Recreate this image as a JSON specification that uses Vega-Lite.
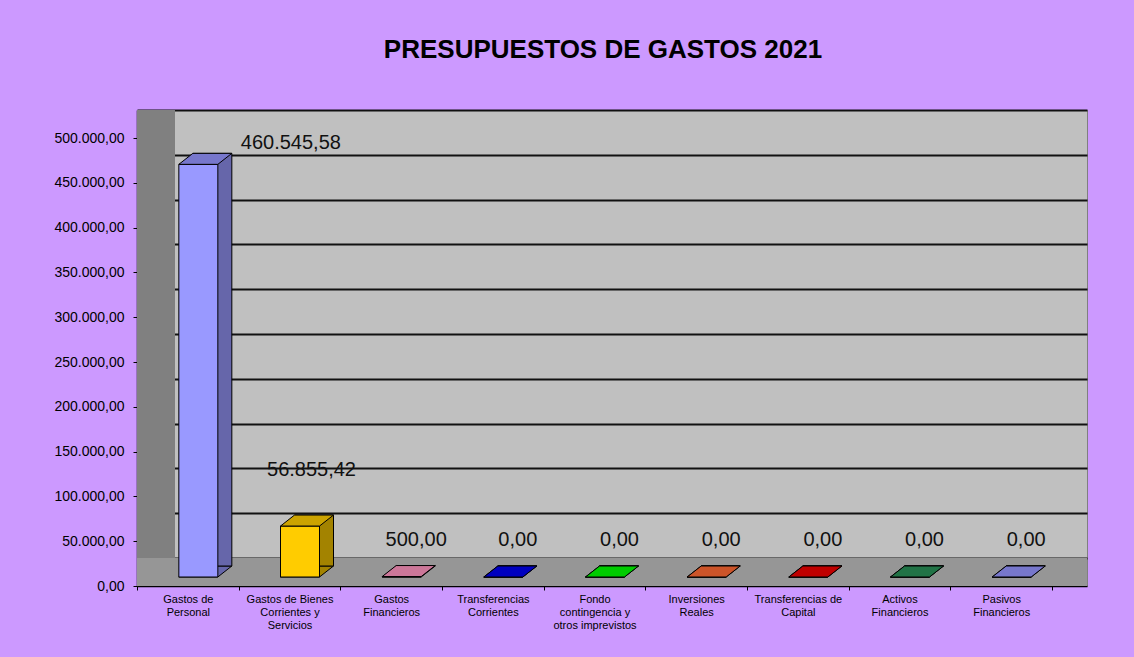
{
  "$schema": "https://vega.github.io/schema/vega-lite/v6.json",
  "width": 950,
  "height": 476,
  "autosize": {"type": "none"},
  "padding": {"left": 137, "top": 110, "right": 47, "bottom": 71},
  "background": "#CC99FF",
  "config": {
    "locale": {"number": {"decimal": ",", "thousands": ".", "grouping": [3], "currency": ["", " €"]}},
    "view": {"fill": "#C0C0C0", "stroke": "#808080", "strokeWidth": 1},
    "font": "Liberation Sans"
  },
  "title": {
    "text": "PRESUPUESTOS DE GASTOS 2021",
    "fontSize": 26,
    "fontWeight": "bold",
    "color": "black",
    "font": "Liberation Sans",
    "anchor": "middle",
    "frame": "group",
    "baseline": "alphabetic",
    "offset": 7,
    "dx": -9
  },
  "data": {
    "values": [
      {"cat": "Gastos de|Personal", "value": 460545.58},
      {"cat": "Gastos de Bienes|Corrientes y|Servicios", "value": 56855.42},
      {"cat": "Gastos|Financieros", "value": 500},
      {"cat": "Transferencias|Corrientes", "value": 0},
      {"cat": "Fondo|contingencia y|otros imprevistos", "value": 0},
      {"cat": "Inversiones|Reales", "value": 0},
      {"cat": "Transferencias de|Capital", "value": 0},
      {"cat": "Activos|Financieros", "value": 0},
      {"cat": "Pasivos|Financieros", "value": 0}
    ]
  },
  "layer": [
    {
      "mark": {"type": "rule", "color": "#808080", "strokeWidth": 38, "xOffset": 19},
      "encoding": {
        "x": {"datum": "Gastos de|Personal", "type": "nominal", "bandPosition": 0,
          "scale": {"domain": ["Gastos de|Personal", "Gastos de Bienes|Corrientes y|Servicios", "Gastos|Financieros", "Transferencias|Corrientes", "Fondo|contingencia y|otros imprevistos", "Inversiones|Reales", "Transferencias de|Capital", "Activos|Financieros", "Pasivos|Financieros"], "paddingInner": 0, "paddingOuter": 0.172, "align": 0},
          "axis": null}
      }
    },
    {
      "mark": {"type": "rule", "color": "#969696", "strokeWidth": 28, "yOffset": 14},
      "encoding": {
        "y": {"datum": 0, "type": "quantitative", "scale": {"domain": [-31250, 500000], "nice": false, "zero": false}, "axis": null}
      }
    },
    {
      "mark": {"type": "point", "shape": "M -1 0.2075 L 0.4717 0.2075 L 1 -0.2075 L -0.4717 -0.2075 Z", "size": 2809, "filled": true, "opacity": 1, "stroke": "black", "strokeWidth": 1, "xOffset": 17.5, "yOffset": 13.5},
      "encoding": {
        "x": {"field": "cat", "type": "nominal", "axis": null},
        "y": {"datum": 0, "type": "quantitative", "axis": null},
        "fill": {"field": "cat", "type": "nominal", "legend": null,
          "scale": {"domain": ["Gastos de|Personal", "Gastos de Bienes|Corrientes y|Servicios", "Gastos|Financieros", "Transferencias|Corrientes", "Fondo|contingencia y|otros imprevistos", "Inversiones|Reales", "Transferencias de|Capital", "Activos|Financieros", "Pasivos|Financieros"],
            "range": ["#6666AA", "#A38300", "#994466", "#000090", "#009900", "#993F1F", "#900000", "#185636", "#5959A0"]}}
      }
    },
    {
      "mark": {"type": "bar", "width": 39, "xOffset": 24.5, "yOffset": 8, "y2Offset": 8, "stroke": "black", "strokeWidth": 1},
      "encoding": {
        "x": {"field": "cat", "type": "nominal", "axis": null},
        "y": {"field": "value", "type": "quantitative", "axis": null},
        "y2": {"datum": 0},
        "fill": {"field": "cat", "type": "nominal", "legend": null,
          "scale": {"domain": ["Gastos de|Personal", "Gastos de Bienes|Corrientes y|Servicios", "Gastos|Financieros", "Transferencias|Corrientes", "Fondo|contingencia y|otros imprevistos", "Inversiones|Reales", "Transferencias de|Capital", "Activos|Financieros", "Pasivos|Financieros"],
            "range": ["#6666AA", "#A38300", "#994466", "#000090", "#009900", "#993F1F", "#900000", "#185636", "#5959A0"]}}
      }
    },
    {
      "mark": {"type": "bar", "width": 39, "xOffset": 10.5, "yOffset": 19, "y2Offset": 19, "stroke": "black", "strokeWidth": 1},
      "encoding": {
        "x": {"field": "cat", "type": "nominal",
          "axis": {"orient": "bottom", "title": null, "labelExpr": "split(datum.label, '|')", "labelAngle": 0, "tickBand": "extent", "tickSize": 4, "tickColor": "black", "domainColor": "black", "domainWidth": 1.5, "labelFontSize": 11, "labelFont": "Liberation Sans", "labelColor": "black", "labelLineHeight": 13, "labelPadding": 3, "labelBaseline": "top", "labelLimit": 200, "grid": false}},
        "y": {"field": "value", "type": "quantitative",
          "axis": {"orient": "left", "title": null, "values": [0, 50000, 100000, 150000, 200000, 250000, 300000, 350000, 400000, 450000, 500000], "grid": true, "gridColor": "#111111", "gridWidth": 2, "labels": false, "ticks": false, "domain": false}},
        "y2": {"datum": 0},
        "fill": {"field": "cat", "type": "nominal", "legend": null,
          "scale": {"domain": ["Gastos de|Personal", "Gastos de Bienes|Corrientes y|Servicios", "Gastos|Financieros", "Transferencias|Corrientes", "Fondo|contingencia y|otros imprevistos", "Inversiones|Reales", "Transferencias de|Capital", "Activos|Financieros", "Pasivos|Financieros"],
            "range": ["#9999FF", "#FFCC00", "#CC7799", "#0000C0", "#00CC00", "#CC5429", "#C00000", "#217346", "#7777CC"]}}
      }
    },
    {
      "mark": {"type": "point", "shape": "M -1 0.2075 L 0.4717 0.2075 L 1 -0.2075 L -0.4717 -0.2075 Z", "size": 2809, "filled": true, "opacity": 1, "stroke": "black", "strokeWidth": 1, "xOffset": 17.5, "yOffset": 13.5},
      "encoding": {
        "x": {"field": "cat", "type": "nominal", "axis": null},
        "y": {"field": "value", "type": "quantitative", "axis": null},
        "fill": {"field": "cat", "type": "nominal", "legend": null,
          "scale": {"domain": ["Gastos de|Personal", "Gastos de Bienes|Corrientes y|Servicios", "Gastos|Financieros", "Transferencias|Corrientes", "Fondo|contingencia y|otros imprevistos", "Inversiones|Reales", "Transferencias de|Capital", "Activos|Financieros", "Pasivos|Financieros"],
            "range": ["#7777CC", "#CCA300", "#CC7799", "#0000C0", "#00CC00", "#CC5429", "#C00000", "#217346", "#7777CC"]}}
      }
    },
    {
      "transform": [{"filter": "datum.value < 1000"}],
      "mark": {"type": "text", "fontSize": 20, "font": "Liberation Sans", "color": "#111111", "baseline": "middle", "align": "center", "dx": 25, "dy": -18},
      "encoding": {
        "x": {"field": "cat", "type": "nominal", "axis": null},
        "y": {"field": "value", "type": "quantitative",
          "axis": {"orient": "left", "title": null, "values": [0, 50000, 100000, 150000, 200000, 250000, 300000, 350000, 400000, 450000, 500000], "format": ",.2f", "grid": false, "tickOffset": 28, "tickSize": 4, "tickColor": "black", "domainColor": "black", "domainWidth": 1.5, "labelPadding": 9, "labelFontSize": 14, "labelFont": "Liberation Sans", "labelColor": "black"}},
        "text": {"field": "value", "type": "quantitative", "format": ",.2f"}
      }
    },
    {
      "transform": [{"filter": "datum.value >= 1000 && datum.value < 400000"}],
      "mark": {"type": "text", "fontSize": 20, "font": "Liberation Sans", "color": "#111111", "baseline": "middle", "align": "center", "dx": 22, "dy": -37},
      "encoding": {
        "x": {"field": "cat", "type": "nominal", "axis": null},
        "y": {"field": "value", "type": "quantitative", "axis": null},
        "text": {"field": "value", "type": "quantitative", "format": ",.2f"}
      }
    },
    {
      "transform": [{"filter": "datum.value >= 400000"}],
      "mark": {"type": "text", "fontSize": 20, "font": "Liberation Sans", "color": "#111111", "baseline": "middle", "align": "center", "dx": 103, "dy": -2},
      "encoding": {
        "x": {"field": "cat", "type": "nominal", "axis": null},
        "y": {"field": "value", "type": "quantitative", "axis": null},
        "text": {"field": "value", "type": "quantitative", "format": ",.2f"}
      }
    }
  ],
  "resolve": {"scale": {"fill": "independent"}, "axis": {"x": "independent", "y": "independent"}}
}
